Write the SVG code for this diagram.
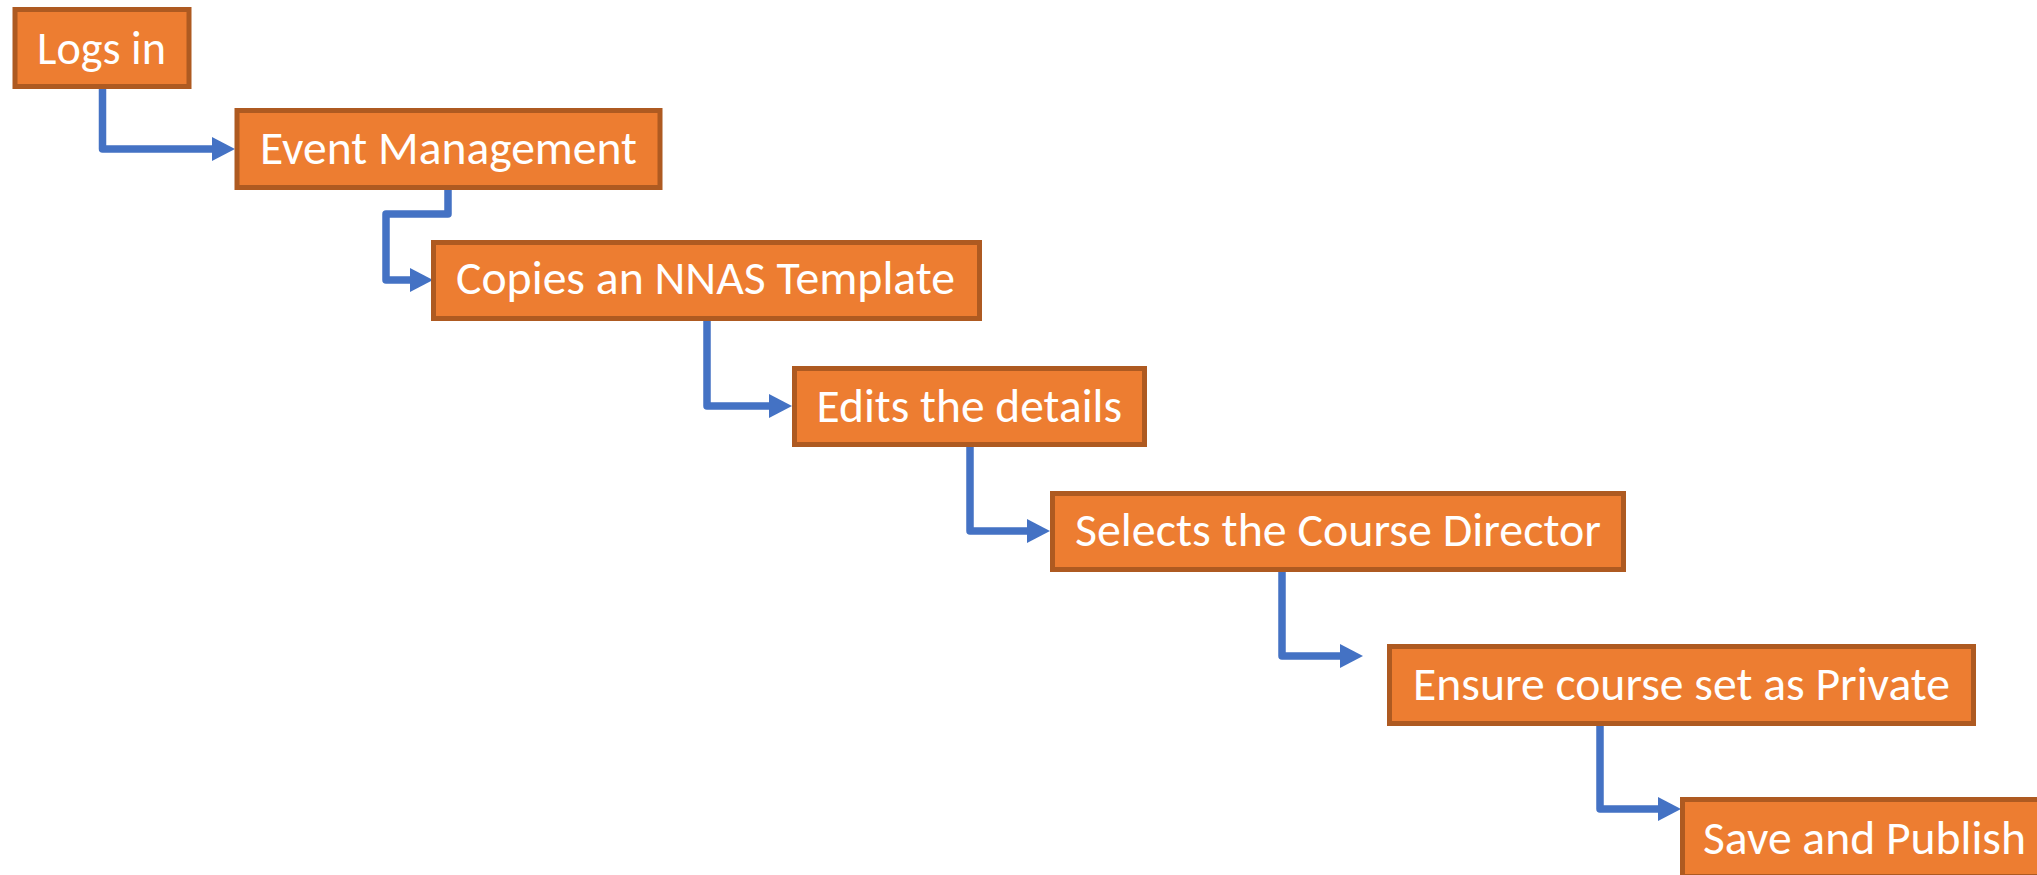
<svg xmlns="http://www.w3.org/2000/svg" width="2037" height="875" viewBox="0 0 2037 875">
  <style>
    .box { fill: #ED7D31; stroke: #AE5A21; stroke-width: 5; }
    .lbl { fill: #FFFFFF; font-family: Calibri, Carlito, "Open Sans", "Noto Sans", sans-serif; font-size: 47px; }
    .conn { fill: none; stroke: #4472C4; stroke-width: 7.5; stroke-linejoin: round; marker-end: url(#arrow); }
  </style>
  <defs>
    <marker id="arrow" markerUnits="userSpaceOnUse" markerWidth="24" markerHeight="24" refX="1" refY="12" orient="auto" overflow="visible">
      <path d="M0,0 L23,12 L0,24 Z" fill="#4472C4"/>
    </marker>
  </defs>
  <rect width="2037" height="875" fill="#FFFFFF"/>
  <g id="connectors">
    <path class="conn" d="M102.5,89 V149 H213"/>
    <path class="conn" d="M448,190 V214 H386 V280 H411"/>
    <path class="conn" d="M707,321 V406 H770"/>
    <path class="conn" d="M970,447 V531 H1028"/>
    <path class="conn" d="M1282,572 V656 H1341"/>
    <path class="conn" d="M1600,726 V809 H1659"/>
  </g>
  <g id="n1">
    <rect class="box" x="15" y="9.5" width="174" height="77"/>
    <text class="lbl" x="37" y="64" textLength="129" lengthAdjust="spacingAndGlyphs">Logs in</text>
  </g>
  <g id="n2">
    <rect class="box" x="237" y="110.5" width="423" height="77"/>
    <text class="lbl" x="260" y="164" textLength="377" lengthAdjust="spacingAndGlyphs">Event Management</text>
  </g>
  <g id="n3">
    <rect class="box" x="433.5" y="242.5" width="546" height="76"/>
    <text class="lbl" x="456" y="294" textLength="499" lengthAdjust="spacingAndGlyphs">Copies an NNAS Template</text>
  </g>
  <g id="n4">
    <rect class="box" x="794.5" y="368.5" width="350" height="76"/>
    <text class="lbl" x="816.5" y="422" textLength="305.5" lengthAdjust="spacingAndGlyphs">Edits the details</text>
  </g>
  <g id="n5">
    <rect class="box" x="1052.5" y="493.5" width="571" height="76"/>
    <text class="lbl" x="1075" y="546" textLength="526" lengthAdjust="spacingAndGlyphs">Selects the Course Director</text>
  </g>
  <g id="n6">
    <rect class="box" x="1389.5" y="646.5" width="584" height="77"/>
    <text class="lbl" x="1413" y="700" textLength="537" lengthAdjust="spacingAndGlyphs">Ensure course set as Private</text>
  </g>
  <g id="n7">
    <rect class="box" x="1682.5" y="799.5" width="370" height="77"/>
    <text class="lbl" x="1703" y="854" textLength="323" lengthAdjust="spacingAndGlyphs">Save and Publish</text>
  </g>
</svg>
